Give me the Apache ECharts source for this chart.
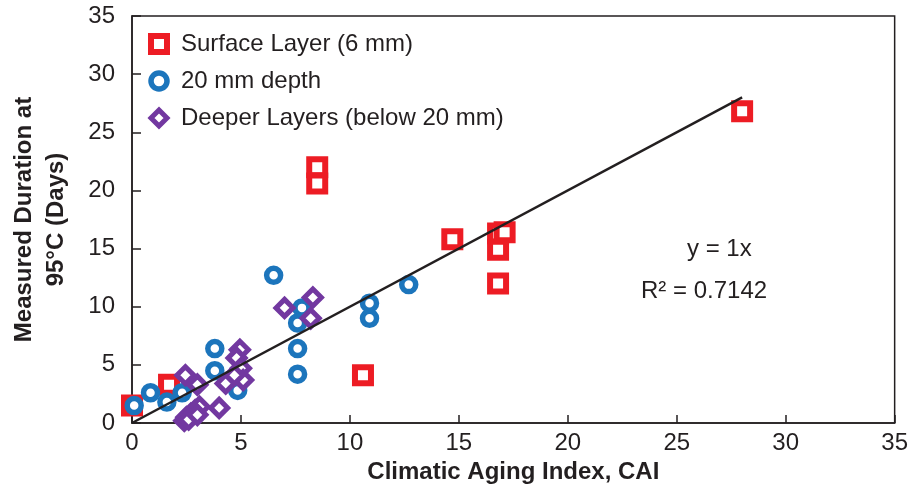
<!DOCTYPE html>
<html>
<head>
<meta charset="utf-8">
<script src="https://cdn.jsdelivr.net/npm/echarts@6/dist/echarts.min.js"></script>
<style>
html,body{margin:0;padding:0;background:#fff;}
#chart{width:911px;height:492px;}
</style>
</head>
<body>
<div id="chart"></div>
<script>
// ---- data ----
var seriesNames = ['Surface Layer (6 mm)', '20 mm depth', 'Deeper Layers (below 20 mm)'];
var surfaceLayer = [
  [0.0, 1.5], [1.7, 3.3], [8.5, 22.0], [8.5, 20.6], [10.6, 4.1],
  [14.7, 15.8], [16.8, 16.3], [17.1, 16.4], [16.8, 14.9], [16.8, 12.0], [28.0, 26.8]
];
var depth20mm = [
  [0.1, 1.5], [0.85, 2.6], [1.6, 1.8], [2.3, 2.6],
  [3.8, 6.4], [3.8, 4.5], [4.85, 2.8],
  [6.5, 12.7], [7.8, 9.9], [7.6, 8.6], [7.6, 6.4], [7.6, 4.2],
  [10.9, 10.3], [10.9, 9.0], [12.7, 11.9]
];
var deeperLayers = [
  [2.45, 4.1], [3.0, 3.3],
  [2.4, 0.2], [2.5, 0.5], [2.7, 0.8], [2.9, 1.1], [3.1, 1.4], [2.6, 0.3], [3.0, 0.7],
  [4.0, 1.3], [4.3, 3.4], [4.95, 6.3], [4.8, 5.6], [5.0, 4.7], [5.1, 3.7], [4.7, 4.1],
  [7.0, 9.9], [8.3, 10.8], [8.2, 9.0]
];
var trendLine = [[0, 0], [28, 28]];
var xTicks = [0, 5, 10, 15, 20, 25, 30, 35];
var yTicks = [0, 5, 10, 15, 20, 25, 30, 35];
var equationText = 'y = 1x';
var r2Text = 'R\u00B2 = 0.7142';

var TXT = '#231f20';
var FONT = 'Liberation Sans';
var RED = '#ed1c24', BLUE = '#1c75bc', PURPLE = '#7238a0';

var chart = echarts.init(document.getElementById('chart'));
chart.setOption({
  animation: false,
  backgroundColor: '#fff',
  textStyle: {fontFamily: FONT, color: TXT},
  grid: {left: 128, right: 13, top: 16, bottom: 69, show: true, borderColor: '#231f20', borderWidth: 1.5, backgroundColor: 'transparent'},
  legend: {
    orient: 'vertical', left: 143, top: 27, itemGap: 13, itemWidth: 16, itemHeight: 16,
    padding: 5,
    data: [
      {name: seriesNames[0], itemStyle: {borderWidth: 6}},
      {name: seriesNames[1], itemStyle: {borderWidth: 5.5}},
      {name: seriesNames[2], itemStyle: {borderWidth: 5}}
    ],
    textStyle: {fontFamily: FONT, fontSize: 24, color: TXT, padding: [0, 0, 0, 9]}
  },
  xAxis: {
    type: 'value', min: xTicks[0], max: xTicks[xTicks.length - 1], interval: 5,
    name: 'Climatic Aging Index, CAI', nameLocation: 'middle', nameGap: 36,
    nameTextStyle: {fontFamily: FONT, fontSize: 24, fontWeight: 'bold', color: TXT},
    axisLine: {lineStyle: {color: '#231f20', width: 1.5}},
    axisTick: {inside: true, length: 8, lineStyle: {color: '#231f20', width: 1.5}},
    axisLabel: {fontFamily: FONT, fontSize: 24, color: TXT, margin: 8},
    splitLine: {show: false}
  },
  yAxis: {
    type: 'value', min: yTicks[0], max: yTicks[yTicks.length - 1], interval: 5,
    name: 'Measured Duration at\n95\u00B0C (Days)', nameLocation: 'middle', nameGap: 60, nameRotate: 90,
    nameTextStyle: {fontFamily: FONT, fontSize: 24, fontWeight: 'bold', color: TXT, lineHeight: 32},
    axisLine: {lineStyle: {color: '#231f20', width: 1.5}},
    axisTick: {inside: true, length: 9, lineStyle: {color: '#231f20', width: 1.5}},
    axisLabel: {fontFamily: FONT, fontSize: 24, color: TXT, margin: 17},
    splitLine: {show: false}
  },
  graphic: [
    {type: 'text', left: 687, top: 237, style: {text: equationText, font: '24px "Liberation Sans"', fill: TXT}},
    {type: 'text', left: 641, top: 279, style: {text: r2Text, font: '24px "Liberation Sans"', fill: TXT}}
  ],
  series: [
    {name: seriesNames[0], type: 'scatter', data: surfaceLayer, symbol: 'rect', symbolSize: 16,
     itemStyle: {color: '#fff', borderColor: RED, borderWidth: 6, opacity: 1}},
    {name: seriesNames[1], type: 'scatter', data: depth20mm, symbol: 'circle', symbolSize: 14,
     itemStyle: {color: '#fff', borderColor: BLUE, borderWidth: 5.5, opacity: 1}},
    {name: seriesNames[2], type: 'scatter', data: deeperLayers, symbol: 'diamond', symbolSize: 17,
     itemStyle: {color: '#fff', borderColor: PURPLE, borderWidth: 5, opacity: 1}},
    {name: 'trend', type: 'line', data: trendLine, symbol: 'none', silent: true,
     lineStyle: {color: '#231f20', width: 2.5}, z: 5}
  ]
});
</script>
</body>
</html>
